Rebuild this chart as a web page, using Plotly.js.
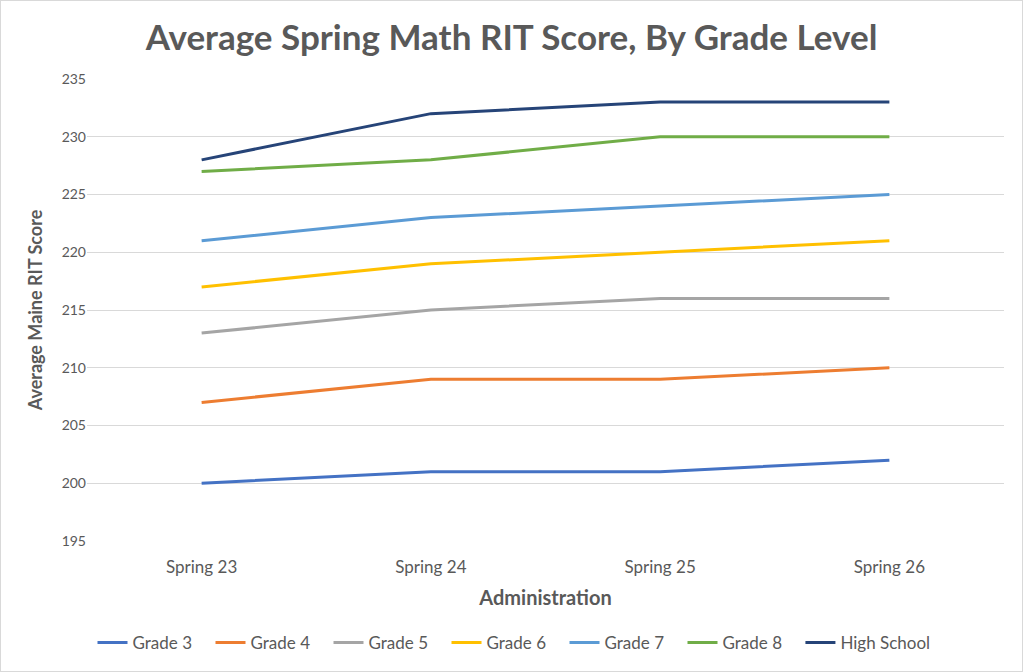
<!DOCTYPE html>
<html>
<head>
<meta charset="utf-8">
<script src="https://cdn.plot.ly/plotly-3.0.1.min.js"></script>
<style>
  html, body { margin: 0; padding: 0; background: #fff; }
  #chart { width: 1021px; height: 670px; border: 1px solid #d9d9d9; }
</style>
</head>
<body>
<div id="chart"></div>
<script>
// Average Spring Math RIT score per administration
const administrations = ['Spring 23', 'Spring 24', 'Spring 25', 'Spring 26'];
const grade3 = [200, 201, 201, 202];
const grade4 = [207, 209, 209, 210];
const grade5 = [213, 215, 216, 216];
const grade6 = [217, 219, 220, 221];
const grade7 = [221, 223, 224, 225];
const grade8 = [227, 228, 230, 230];
const highSchool = [228, 232, 233, 233];

const seriesNames = ['Grade 3', 'Grade 4', 'Grade 5', 'Grade 6', 'Grade 7', 'Grade 8', 'High School'];
const seriesValues = [grade3, grade4, grade5, grade6, grade7, grade8, highSchool];
const COLORS = ['#4472C4', '#ED7D31', '#A5A5A5', '#FFC000', '#5B9BD5', '#70AD47', '#264478'];

const FONT = 'Lato, "Open Sans", sans-serif';

// last entry goes in its own legend so its longer label isn't clipped by entrywidth
const traces = seriesNames.map((name, i) => ({
    x: administrations,
    y: seriesValues[i],
    name: name,
    type: 'scatter',
    mode: 'lines',
    line: { color: COLORS[i], width: 3 },
    legend: i === seriesNames.length - 1 ? 'legend2' : 'legend',
}));

const LEGEND_BASE = {
    orientation: 'h',
    yref: 'container',
    yanchor: 'middle',
    y: 0.042,
    xanchor: 'left',
    font: { size: 17, color: '#595959' },
    itemwidth: 30,
    bgcolor: 'rgba(0,0,0,0)',
};

const layout = {
    paper_bgcolor: '#fff',
    plot_bgcolor: '#fff',
    font: { family: FONT, color: '#595959', size: 15 },
    margin: { l: 86, r: 18, t: 78, b: 130 },
    title: {
        text: 'Average Spring Math RIT Score, By Grade Level',
        font: { family: FONT, size: 35, color: '#595959', weight: 'bold' },
        x: 0.5, xanchor: 'center', y: 0.945, yanchor: 'middle',
    },
    xaxis: {
        type: 'category',
        range: [-0.5, 3.5],
        showgrid: false,
        showline: false,
        zeroline: false,
        ticks: '',
        ticklabelstandoff: 14,
        tickfont: { size: 17, color: '#595959' },
        title: { text: 'Administration', font: { size: 20, color: '#595959', weight: 'bold' }, standoff: 14 },
    },
    yaxis: {
        range: [195, 235],
        dtick: 5,
        gridcolor: '#d9d9d9',
        gridwidth: 1,
        zeroline: false,
        showline: false,
        ticks: '',
        tickfont: { size: 14, color: '#595959' },
        title: { text: 'Average Maine RIT Score', font: { size: 18, color: '#595959', weight: 'bold' }, standoff: 14 },
    },
    legend: { ...LEGEND_BASE, x: 0.006, entrywidth: 73, entrywidthmode: 'pixels' },
    legend2: { ...LEGEND_BASE, x: 0.778 },
    showlegend: true,
};

Plotly.newPlot('chart', traces, layout, { displayModeBar: false, responsive: false });
</script>
</body>
</html>
